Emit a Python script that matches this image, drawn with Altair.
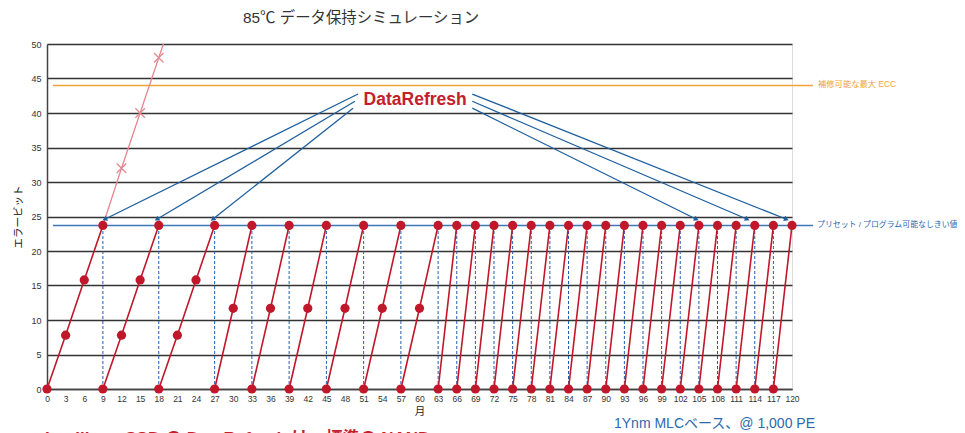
import math
import altair as alt
import pandas as pd

# ---------------- data ----------------
slow_starts = [0, 9, 18]
slow_offsets = [0, 3, 6, 9]
slow_bits = [0, 7.8, 15.8, 23.7]

mid_starts = [27, 33, 39, 45, 51, 57]
mid_offsets = [0, 3, 6]
mid_bits = [0, 11.7, 23.7]

fast_starts = [63, 66, 69, 72, 75, 78, 81, 84, 87, 90, 93, 96, 99, 102, 105,
               108, 111, 114, 117]
fast_offsets = [0, 3]
fast_bits = [0, 23.7]

reset_months = [9, 18, 27, 33, 39, 45, 51, 57, 63, 66, 69, 72, 75, 78, 81, 84,
                87, 90, 93, 96, 99, 102, 105, 108, 111, 114, 117]

norefresh_months = [9, 12, 15, 18, 21]
norefresh_bits = [23.7, 32, 40, 48, 56]
norefresh_marker_months = [12, 15, 18]
norefresh_marker_bits = [32, 40, 48]

ecc_limit = 44
threshold = 23.7

arrow_x1 = [50.1, 49.6, 49.3, 68.5, 68.5, 68.5]
arrow_y1 = [42.75, 41.7, 40.7, 42.75, 41.7, 40.7]
arrow_x2 = [9.3, 17.7, 26.7, 119.1, 112.8, 104.6]
arrow_y2 = [24.6, 24.6, 24.6, 24.6, 24.6, 24.6]

label_x = 59.3
label_y = 41.9

x_ticks = list(range(0, 121, 3))
y_ticks = list(range(0, 51, 5))

W, H = 745, 345
FONT = "Liberation Sans, Noto Sans CJK JP, sans-serif"
RED = "#c0182a"
BLUE = "#1f5f9f"
ORANGE = "#f2a23a"

# ---------------- tables ----------------
rows = []
cid = 0
for starts, offs, bits in [(slow_starts, slow_offsets, slow_bits),
                           (mid_starts, mid_offsets, mid_bits),
                           (fast_starts, fast_offsets, fast_bits)]:
    for s in starts:
        for o, b in zip(offs, bits):
            rows.append({"month": s + o, "bits": b, "cycle": cid})
        cid += 1
cycles = pd.DataFrame(rows)

resets = pd.DataFrame({"month": reset_months, "lo": 0, "hi": threshold})
norefresh = pd.DataFrame({"month": norefresh_months, "bits": norefresh_bits})
nr_marks = pd.DataFrame({"month": norefresh_marker_months, "bits": norefresh_marker_bits})

sx, sy = W / 120, H / 50
angles = []
for a, b, c, d in zip(arrow_x1, arrow_y1, arrow_x2, arrow_y2):
    dx = (c - a) * sx
    dy = -(d - b) * sy
    angles.append(math.degrees(math.atan2(dx, -dy)) % 360)
arrows = pd.DataFrame({"x1": arrow_x1, "y1": arrow_y1, "x2": arrow_x2,
                       "y2": arrow_y2, "ang": angles})

xs = alt.Scale(domain=[0, 120], nice=False, zero=False)
ys = alt.Scale(domain=[0, 50], nice=False, zero=False)

X_AXIS = alt.Axis(
    values=x_ticks, title="月", grid=False, ticks=False, labelPadding=5,
    labelFontSize=8.5, labelColor="#333", domainColor="#444", domainWidth=1.5,
    titleFontSize=10.5, titleFontWeight="normal", titleColor="#222", titlePadding=4,
    labelFlush=False, labelOverlap=False, labelSeparation=0)
Y_AXIS = alt.Axis(
    values=y_ticks, title="エラービット", grid=True, ticks=False, labelPadding=6,
    labelFontSize=9, labelColor="#333", domainColor="#444", domainWidth=1.5,
    gridColor="#333", gridWidth=1.3, gridOpacity=1,
    titleFontSize=10.5, titleFontWeight="normal", titleColor="#222", titlePadding=7,
    labelOverlap=False, labelFlush=False)


def X(field):
    return alt.X(field, scale=xs, axis=X_AXIS)


def Y(field):
    return alt.Y(field, scale=ys, axis=Y_AXIS)


base = alt.Chart(cycles)

ecc_rule = alt.Chart(pd.DataFrame({"v": [ecc_limit]})).mark_rule(
    color=ORANGE, strokeWidth=1.5).encode(
    y=Y("v:Q"), x=alt.value(6), x2=alt.value(W + 21))
thr_rule = alt.Chart(pd.DataFrame({"v": [threshold]})).mark_rule(
    color="#3a78b8", strokeWidth=1.5).encode(
    y=Y("v:Q"), x=alt.value(6), x2=alt.value(W + 21))

dashed = alt.Chart(resets).mark_rule(
    color="#1f5fb0", strokeWidth=1, strokeDash=[3, 2]).encode(
    x=X("month:Q"), y=Y("lo:Q"), y2="hi:Q")

pink_line = alt.Chart(norefresh).mark_line(
    color="#e38890", strokeWidth=1.3, clip=True).encode(
    x=X("month:Q"), y=Y("bits:Q"))
pink_marks = alt.Chart(nr_marks).mark_point(
    shape="M-1,-1L1,1M-1,1L1,-1", size=90, filled=False, color="#e38890",
    strokeWidth=1.3, opacity=1).encode(
    x=X("month:Q"), y=Y("bits:Q"))

red_lines = base.mark_line(color=RED, strokeWidth=1.6).encode(
    x=X("month:Q"), y=Y("bits:Q"), detail="cycle:N")
red_pts = base.mark_circle(color=RED, size=85, opacity=1).encode(
    x=X("month:Q"), y=Y("bits:Q"))

arrow_lines = alt.Chart(arrows).mark_rule(color=BLUE, strokeWidth=1.3).encode(
    x=X("x1:Q"), y=Y("y1:Q"), x2="x2:Q", y2="y2:Q")
arrow_heads = alt.Chart(arrows).mark_point(
    shape="triangle-up", size=30, filled=True, color=BLUE, opacity=1).encode(
    x=X("x2:Q"), y=Y("y2:Q"),
    angle=alt.Angle("ang:Q", scale=None))

label = alt.Chart(pd.DataFrame({"x": [label_x], "y": [label_y],
                                "t": ["DataRefresh"]})).mark_text(
    font=FONT, fontSize=17.5, fontWeight="bold", color="#c4202c",
    align="center", baseline="middle").encode(
    x=X("x:Q"), y=Y("y:Q"), text="t:N")

ecc_text = alt.Chart(pd.DataFrame({"v": [ecc_limit], "t": ["補修可能な最大 ECC"]})).mark_text(
    font=FONT, fontSize=8.3, color=ORANGE, align="left", baseline="middle").encode(
    y=Y("v:Q"), x=alt.value(W + 26), text="t:N")
thr_text = alt.Chart(pd.DataFrame({"v": [threshold],
                                   "t": ["プリセット / プログラム可能なしきい値"]})).mark_text(
    font=FONT, fontSize=7.9, color="#2a6bb0", align="left", baseline="middle").encode(
    y=Y("v:Q"), x=alt.value(W + 25), text="t:N")

note = alt.Chart(pd.DataFrame({"t": ["1Ynm MLCベース、@ 1,000 PE"]})).mark_text(
    font=FONT, fontSize=14, color="#2a6bb0", align="right", baseline="middle").encode(
    x=alt.value(W + 23), y=alt.value(H + 35), text="t:N")
bottom = alt.Chart(pd.DataFrame({"t": ["IntelligentSSD の DataRefresh は、標準の NAND"]})).mark_text(
    font=FONT, fontSize=17, fontWeight="bold", color="#c4202c", align="left",
    baseline="alphabetic").encode(
    x=alt.value(-2), y=alt.value(H + 55), text="t:N")

chart = alt.layer(
    ecc_rule, thr_rule, dashed, pink_line, pink_marks,
    red_lines, red_pts, arrow_lines, arrow_heads, label,
    ecc_text, thr_text, note, bottom,
).properties(
    width=W, height=H,
    title=alt.TitleParams("85℃ データ保持シミュレーション", anchor="start", dx=229,
                          fontSize=15.4, fontWeight="normal", color="#333",
                          font=FONT, offset=14),
    autosize=alt.AutoSizeParams(type="none"),
    padding={"left": 39, "top": 36, "right": 165, "bottom": 44},
).configure_view(strokeWidth=0).configure_axis(
    labelOverlap=False, labelFlush=False
).configure(font=FONT, background="white")

chart.save("out.html", embed_options={"renderer": "svg", "actions": False})
